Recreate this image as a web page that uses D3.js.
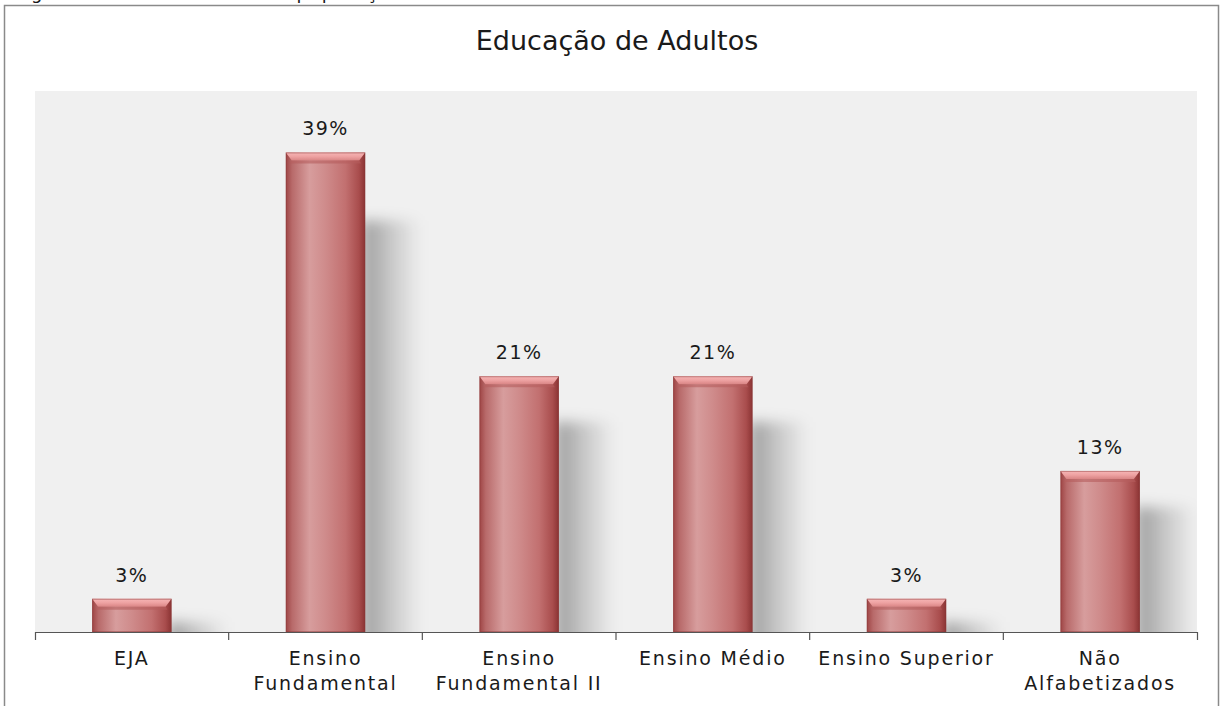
<!DOCTYPE html>
<html>
<head>
<meta charset="utf-8">
<script src="https://cdn.jsdelivr.net/npm/d3@7"></script>
<style>
  body { margin: 0; background: #fff; }
  text { font-family: "DejaVu Sans", Verdana, sans-serif; fill: #1a1a1a; }
</style>
</head>
<body>
<div id="visualization"></div>
<script>
// chart data
var categories = ['EJA', 'Ensino Fundamental', 'Ensino Fundamental II', 'Ensino Médio', 'Ensino Superior', 'Não Alfabetizados'];
var tickLabels = [['EJA'], ['Ensino', 'Fundamental'], ['Ensino', 'Fundamental II'], ['Ensino Médio'], ['Ensino Superior'], ['Não', 'Alfabetizados']];
var values = [2.7, 39, 20.8, 20.8, 2.7, 13.1];
var valueLabels = ['3%', '39%', '21%', '21%', '3%', '13%'];
var title = 'Educação de Adultos';
var caption = 'Figura 1 – Escolaridade da população adulta';

var width = 1226;
var height = 706;
var plot = { left: 35, right: 1197, top: 91, bottom: 632 };

var svg = d3.select('#visualization').append('svg')
  .attr('width', width)
  .attr('height', height);

var defs = svg.append('defs');

// bar body gradient (left to right)
var bodyGrad = defs.append('linearGradient').attr('id', 'barBody')
  .attr('x1', 0).attr('y1', 0).attr('x2', 1).attr('y2', 0);
[[0, '#9e4444'], [0.08, '#b86a6a'], [0.3, '#d79d9d'], [0.5, '#cf8b8b'], [0.75, '#c27070'], [0.92, '#a94d4d'], [1, '#8a3333']]
  .forEach(function(s) { bodyGrad.append('stop').attr('offset', s[0]).attr('stop-color', s[1]); });

var capGrad = defs.append('linearGradient').attr('id', 'barCap')
  .attr('x1', 0).attr('y1', 0).attr('x2', 0).attr('y2', 1);
[[0, '#f6b6b6'], [0.5, '#eea2a2'], [1, '#d98585']]
  .forEach(function(s) { capGrad.append('stop').attr('offset', s[0]).attr('stop-color', s[1]); });

var shadowGrad = defs.append('linearGradient').attr('id', 'shadow')
  .attr('x1', 0).attr('y1', 0).attr('x2', 1).attr('y2', 0);
[[0, '#000', 0.36], [0.45, '#000', 0.18], [1, '#000', 0]]
  .forEach(function(s) {
    shadowGrad.append('stop').attr('offset', s[0]).attr('stop-color', s[1]).attr('stop-opacity', s[2]);
  });

defs.append('filter').attr('id', 'blur')
  .attr('x', '-50%').attr('y', '-50%').attr('width', '200%').attr('height', '200%')
  .append('feGaussianBlur').attr('stdDeviation', 7);

defs.append('clipPath').attr('id', 'plotClip')
  .append('rect')
  .attr('x', plot.left).attr('y', plot.top)
  .attr('width', plot.right - plot.left).attr('height', plot.bottom - plot.top);

// caption, cut off at the top of the picture as in the original
svg.append('text')
  .attr('x', 14).attr('y', -1)
  .style('font-size', '18px')
  .style('letter-spacing', '1.5px')
  .text(caption);

// outer frame
svg.append('rect')
  .attr('x', 4.5).attr('y', 5.5)
  .attr('width', 1214).attr('height', 730)
  .attr('fill', '#fff')
  .attr('stroke', '#8a8a8a')
  .attr('stroke-width', 1.5);

svg.append('text')
  .attr('x', 617).attr('y', 50)
  .attr('text-anchor', 'middle')
  .style('font-size', '27px')
  .text(title);

// plot area
svg.append('rect')
  .attr('x', plot.left).attr('y', plot.top)
  .attr('width', plot.right - plot.left).attr('height', plot.bottom - plot.top)
  .attr('fill', '#f0f0f0');

var x = d3.scaleBand()
  .domain(categories)
  .range([plot.left, plot.right])
  .paddingInner(0.59)
  .paddingOuter(0.295);

var y = d3.scaleLinear()
  .domain([0, 44])
  .range([plot.bottom, plot.top]);

var data = categories.map(function(c, i) {
  return { cat: c, value: values[i], label: valueLabels[i], lines: tickLabels[i] };
});

// shadows
svg.append('g')
  .attr('clip-path', 'url(#plotClip)')
  .selectAll('rect')
  .data(data)
  .enter().append('rect')
  .attr('x', function(d) { return x(d.cat) + x.bandwidth() - 4; })
  .attr('y', function(d) {
    var h = y(0) - y(d.value);
    return y(d.value) + 20 + 0.1 * h;
  })
  .attr('width', 60)
  .attr('height', function(d) {
    var h = y(0) - y(d.value);
    return Math.max(0, h - 20 - 0.1 * h + 30);
  })
  .attr('fill', 'url(#shadow)')
  .attr('filter', 'url(#blur)');

// bars
var bars = svg.append('g').selectAll('g')
  .data(data)
  .enter().append('g');

bars.append('rect')
  .attr('x', function(d) { return x(d.cat); })
  .attr('y', function(d) { return y(d.value); })
  .attr('width', x.bandwidth())
  .attr('height', function(d) { return y(0) - y(d.value); })
  .attr('fill', 'url(#barBody)');

// bevel on top of the bar
bars.append('path')
  .attr('d', function(d) {
    var x0 = x(d.cat), x1 = x0 + x.bandwidth(), t = y(d.value);
    return 'M' + x0 + ',' + t + 'H' + x1 + 'L' + (x1 - 6) + ',' + (t + 8) + 'H' + (x0 + 6) + 'Z';
  })
  .attr('fill', 'url(#barCap)');

bars.append('path')
  .attr('d', function(d) {
    var x0 = x(d.cat), x1 = x0 + x.bandwidth(), t = y(d.value);
    return 'M' + (x0 + 6) + ',' + (t + 8) + 'H' + (x1 - 6) + 'L' + (x1 - 4) + ',' + (t + 11) + 'H' + (x0 + 4) + 'Z';
  })
  .attr('fill', '#b55e5e')
  .attr('opacity', 0.6);

bars.append('rect')
  .attr('x', function(d) { return x(d.cat) + 0.5; })
  .attr('y', function(d) { return y(d.value) + 0.5; })
  .attr('width', x.bandwidth() - 1)
  .attr('height', function(d) { return y(0) - y(d.value) - 1; })
  .attr('fill', 'none')
  .attr('stroke', '#8a3a3a')
  .attr('stroke-opacity', 0.45);

// value labels
svg.append('g').selectAll('text')
  .data(data)
  .enter().append('text')
  .attr('x', function(d) { return x(d.cat) + x.bandwidth() / 2; })
  .attr('y', function(d) { return y(d.value) - 17; })
  .attr('text-anchor', 'middle')
  .style('font-size', '19px')
  .style('letter-spacing', '1.5px')
  .text(function(d) { return d.label; });

// x axis
var axis = svg.append('g')
  .attr('transform', 'translate(0,' + plot.bottom + ')')
  .call(d3.axisBottom(x).tickSizeInner(0).tickSizeOuter(8).tickFormat(''));

axis.select('.domain').attr('stroke', '#555').attr('stroke-width', 1.2);

axis.selectAll('.boundary')
  .data(categories.slice(1))
  .enter().append('line')
  .attr('class', 'boundary')
  .attr('x1', function(d) { return x(d) - x.step() * x.paddingInner() / 2; })
  .attr('x2', function(d) { return x(d) - x.step() * x.paddingInner() / 2; })
  .attr('y1', 0).attr('y2', 8)
  .attr('stroke', '#555')
  .attr('stroke-width', 1.2);

axis.selectAll('.tick').each(function(d, i) {
  var t = d3.select(this).select('text')
    .attr('y', 0).attr('dy', null)
    .style('font-size', '19px')
    .style('letter-spacing', '1.8px')
    .attr('fill', '#1a1a1a');
  tickLabels[i].forEach(function(line, k) {
    t.append('tspan')
      .attr('x', 0)
      .attr('y', 33 + k * 25)
      .text(line);
  });
});
</script>
</body>
</html>
